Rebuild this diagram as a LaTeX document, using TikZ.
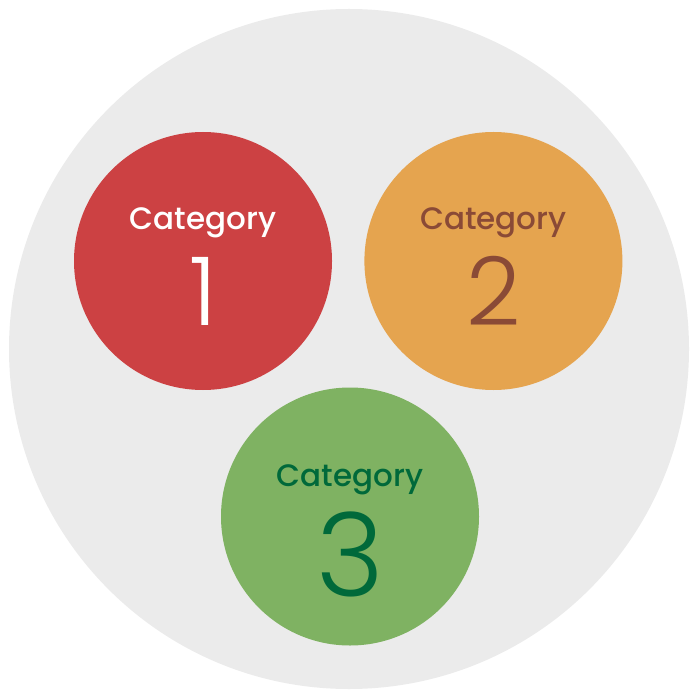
\documentclass[tikz,border=0pt]{standalone}
\usepackage{fontspec}
\setmainfont{Poppins}
\newfontfamily\wordfont{Poppins Medium}
\newfontfamily\numfont{Poppins Light}
\usetikzlibrary{positioning}

\definecolor{bggray}{HTML}{EBEBEB}
\definecolor{catred}{HTML}{CC4143}
\definecolor{catorange}{HTML}{E5A44F}
\definecolor{catbrown}{HTML}{8A4A36}
\definecolor{catgreen}{HTML}{7FB262}
\definecolor{catdkgreen}{HTML}{00693A}

\tikzstyle{cat} = [circle, minimum size=258pt, inner sep=0pt, draw=none]
\tikzstyle{catword} = [anchor=base, inner sep=0pt, font=\wordfont\fontsize{31}{31}\selectfont]
\tikzstyle{catnum} = [anchor=base, inner sep=0pt, font=\numfont\fontsize{95}{95}\selectfont]

\begin{document}
\begin{tikzpicture}[x=1pt,y=-1pt]
\useasboundingbox (0,0) rectangle (700,700);

\node[circle, minimum size=680pt, inner sep=0pt, fill=bggray] (all) at (349,349) {};

\node[cat, fill=catred] (cat1) at (203,261) {};
\node[cat, fill=catorange] (cat2) [right=32pt of cat1] {};
\node[cat, fill=catgreen] (cat3) at (350,516.5) {};

% labels
\node[catword, text=white] (word1) at ([yshift=31pt]cat1.center) {Category};
\node[catnum, text=white] (num1) at ([yshift=-64pt]cat1.center) {1};
\node[catword, text=catbrown] (word2) at ([yshift=31pt]cat2.center) {Category};
\node[catnum, text=catbrown] (num2) at ([yshift=-64pt]cat2.center) {2};
\node[catword, text=catdkgreen] (word3) at ([yshift=30pt]cat3.center) {Category};
\node[catnum, text=catdkgreen, font=\numfont\fontsize{116}{116}\selectfont] (num3) at ([yshift=-80pt]cat3.center) {3};

\end{tikzpicture}
\end{document}
